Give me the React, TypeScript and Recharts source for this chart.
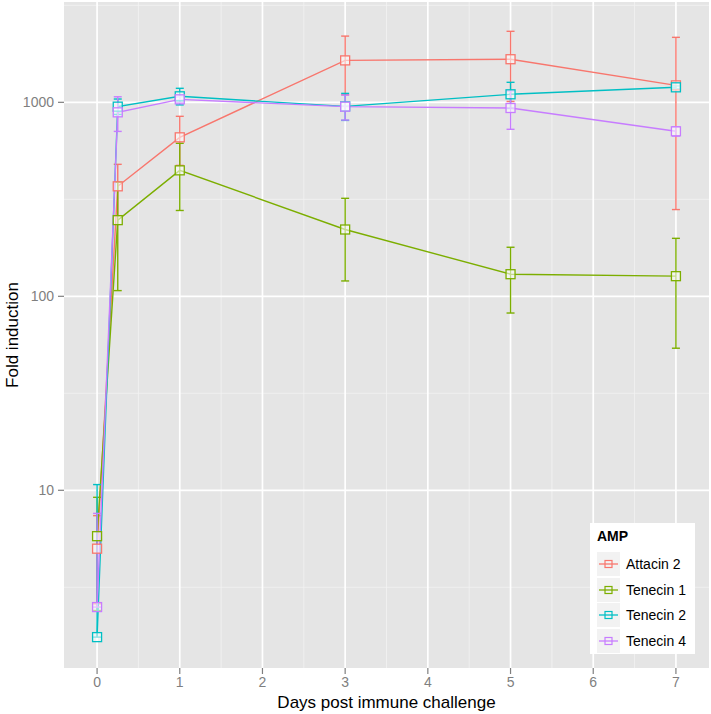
import React from "react";
import {
  LineChart, Line, XAxis, YAxis, CartesianGrid, ErrorBar, Legend, Label,
} from "recharts";

document.body.style.margin = "0";

const DAYS = [0, 0.25, 1, 3, 5, 7];

const ATTACIN2 = [5.0, 369, 660, 1645, 1668, 1223];
const ATTACIN2_LO = [2.6, 260, 473, 1095, 1010, 280];
const ATTACIN2_HI = [7.4, 479, 847, 2195, 2323, 2163];

const TENECIN1 = [5.8, 247, 446, 221, 130, 127];
const TENECIN1_LO = [2.4, 107, 277, 120, 82, 54];
const TENECIN1_HI = [9.2, 387, 615, 320, 179, 199];

const TENECIN2 = [1.75, 950, 1074, 953, 1100, 1195];
const TENECIN2_LO = [null, 866, 970, 807, 930, 1175];
const TENECIN2_HI = [10.7, 1040, 1181, 1112, 1268, 1215];

const TENECIN4 = [2.5, 888, 1036, 950, 935, 709];
const TENECIN4_LO = [null, 708, 1000, 810, 726, 670];
const TENECIN4_HI = [7.6, 1068, 1072, 1090, 1144, 748];

const X_TICKS = [0, 1, 2, 3, 4, 5, 6, 7];
const X_MINOR = [0.5, 1.5, 2.5, 3.5, 4.5, 5.5, 6.5];
const Y_TICKS = [10, 100, 1000];
const Y_MINOR = [3.1623, 31.623, 316.23, 3162.3];

const SERIES = [
  { key: "att2", name: "Attacin 2", color: "#F8766D", vals: ATTACIN2, lo: ATTACIN2_LO, hi: ATTACIN2_HI },
  { key: "ten1", name: "Tenecin 1", color: "#7CAE00", vals: TENECIN1, lo: TENECIN1_LO, hi: TENECIN1_HI },
  { key: "ten2", name: "Tenecin 2", color: "#00BFC4", vals: TENECIN2, lo: TENECIN2_LO, hi: TENECIN2_HI },
  { key: "ten4", name: "Tenecin 4", color: "#C77CFF", vals: TENECIN4, lo: TENECIN4_LO, hi: TENECIN4_HI },
];

// one row per day, error bars stored as [below, above] deltas
const data = DAYS.map((d, i) => {
  const row: any = { day: d };
  SERIES.forEach((s) => {
    const v = s.vals[i];
    const lo = s.lo[i] == null ? v : (s.lo[i] as number);
    row[s.key] = v;
    row[s.key + "Err"] = [v - lo, s.hi[i] - v];
  });
  return row;
});

const FONT = '"Liberation Sans", Arial, Helvetica, sans-serif';

const squareDot = (color: string) => (props: any) => {
  const { cx, cy, index } = props;
  if (cx == null || cy == null) return <g key={index} />;
  return (
    <rect
      key={index}
      x={cx - 4.5}
      y={cy - 4.5}
      width={9}
      height={9}
      fill="#FFFFFF"
      fillOpacity={0.55}
      stroke={color}
      strokeWidth={1.3}
    />
  );
};

const AmpLegend = () => (
  <div
    style={{
      background: "#FFFFFF",
      width: 105,
      height: 131,
      boxSizing: "border-box",
      padding: "6px 7px",
      fontFamily: FONT,
    }}
  >
    <div style={{ fontWeight: "bold", fontSize: 14, height: 22, lineHeight: "14px", color: "#000" }}>AMP</div>
    {SERIES.map((s) => (
      <div key={s.key} style={{ display: "flex", alignItems: "center", height: 25.7 }}>
        <svg width={23} height={24} style={{ display: "block" }}>
          <rect x={0} y={0} width={23} height={24} fill="#F2F2F2" />
          <line x1={2} y1={12} x2={21} y2={12} stroke={s.color} strokeWidth={1.3} />
          <rect x={8} y={8.5} width={7} height={7} fill="none" stroke={s.color} strokeWidth={1.2} />
        </svg>
        <span style={{ marginLeft: 6, fontSize: 14, color: "#000" }}>{s.name}</span>
      </div>
    ))}
  </div>
);

export default function App() {
  return (
    <div style={{ width: 711, height: 714, background: "#FFFFFF", fontFamily: FONT }}>
      <LineChart
        width={711}
        height={714}
        data={data}
        margin={{ top: 2, right: 2, left: 0, bottom: 0 }}
      >
        <CartesianGrid
          fill="#E5E5E5"
          fillOpacity={1}
          stroke="#F2F2F2"
          strokeWidth={0.8}
          horizontalValues={Y_MINOR}
          verticalValues={X_MINOR}
        />
        <CartesianGrid
          stroke="#FFFFFF"
          strokeWidth={1.7}
          horizontalValues={Y_TICKS}
          verticalValues={X_TICKS}
        />
        <XAxis
          dataKey="day"
          type="number"
          domain={[-0.4, 7.4]}
          allowDataOverflow
          ticks={X_TICKS}
          height={46}
          axisLine={false}
          tickSize={6}
          tickMargin={3}
          tickLine={{ stroke: "#7F7F7F", strokeWidth: 1.2 }}
          tick={{ fill: "#7F7F7F", fontSize: 14, fontFamily: FONT }}
        >
          <Label
            content={(p: any) => {
              const vb = p.viewBox;
              return (
                <text
                  x={vb.x + vb.width / 2}
                  y={vb.y + 40}
                  textAnchor="middle"
                  fontSize={17}
                  fontFamily={FONT}
                  fill="#000"
                >
                  Days post immune challenge
                </text>
              );
            }}
          />
        </XAxis>
        <YAxis
          scale="log"
          type="number"
          domain={[1.213, 3290]}
          allowDataOverflow
          ticks={Y_TICKS}
          width={64}
          axisLine={false}
          tickSize={6}
          tickMargin={4}
          tickLine={{ stroke: "#7F7F7F", strokeWidth: 1.2 }}
          tick={{ fill: "#7F7F7F", fontSize: 14, fontFamily: FONT }}
        >
          <Label
            content={(p: any) => {
              const vb = p.viewBox;
              const x = 12;
              const y = vb.y + vb.height / 2;
              return (
                <text
                  x={x}
                  y={y}
                  transform={`rotate(-90 ${x} ${y})`}
                  textAnchor="middle"
                  dominantBaseline="central"
                  fontSize={17}
                  fontFamily={FONT}
                  fill="#000"
                >
                  Fold induction
                </text>
              );
            }}
          />
        </YAxis>
        <Legend
          layout="horizontal"
          verticalAlign="middle"
          align="center"
          content={() => <AmpLegend />}
          wrapperStyle={{ position: "absolute", left: 590, top: 523, width: 105, height: 131 }}
        />
        {SERIES.map((s) => (
          <Line
            key={s.key}
            dataKey={s.key}
            name={s.name}
            type="linear"
            stroke={s.color}
            strokeWidth={1.4}
            dot={squareDot(s.color)}
            activeDot={false}
            isAnimationActive={false}
          >
            <ErrorBar
              dataKey={s.key + "Err"}
              direction="y"
              width={4}
              stroke={s.color}
              strokeWidth={1.4}
              isAnimationActive={false}
            />
          </Line>
        ))}
      </LineChart>
    </div>
  );
}
